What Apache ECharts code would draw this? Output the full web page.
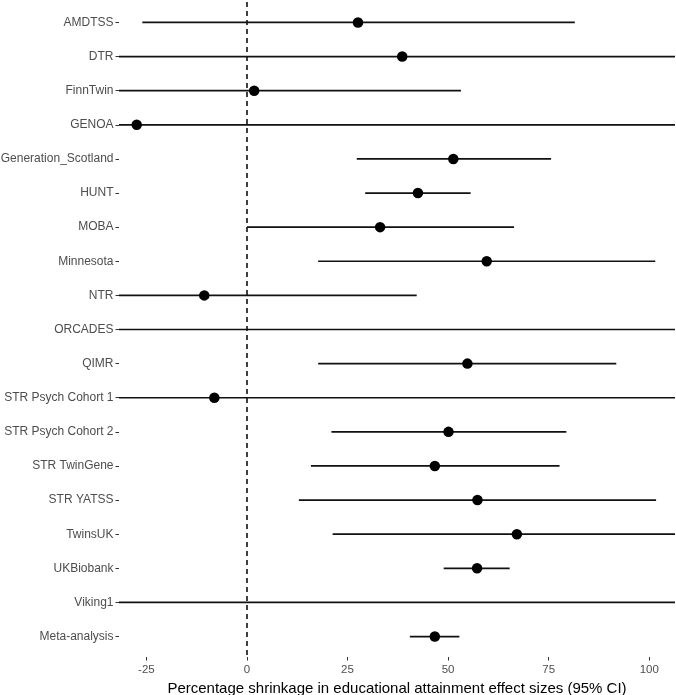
<!DOCTYPE html>
<html>
<head>
<meta charset="utf-8">
<script src="https://cdn.jsdelivr.net/npm/echarts@6/dist/echarts.min.js"></script>
<style>
html,body{margin:0;padding:0;background:#fff;}
#chart{width:676px;height:695px;}
</style>
</head>
<body>
<div id="chart"></div>
<script>
const categories = ["AMDTSS","DTR","FinnTwin","GENOA","Generation_Scotland","HUNT","MOBA","Minnesota","NTR","ORCADES","QIMR","STR Psych Cohort 1","STR Psych Cohort 2","STR TwinGene","STR YATSS","TwinsUK","UKBiobank","Viking1","Meta-analysis"];
const estimate = [27.6, 38.6, 1.8, -27.4, 51.3, 42.5, 33.1, 59.6, -10.6, null, 54.8, -8.1, 50.1, 46.7, 57.3, 67.1, 57.2, null, 46.7];
const lower = [-26.0, -45, -45, -45, 27.3, 29.4, 0.0, 17.7, -45, -45, 17.7, -45, 21.0, 15.9, 12.9, 21.3, 48.9, -45, 40.5];
const upper = [81.5, 130, 53.2, 130, 75.6, 55.6, 66.4, 101.5, 42.2, 130, 91.8, 130, 79.4, 77.7, 101.7, 130, 65.3, 130, 52.8];
const xTicks = [-25, 0, 25, 50, 75, 100];
const xTitle = "Percentage shrinkage in educational attainment effect sizes (95% CI)";

const rowIdx = categories.map((c, i) => i + 1);
const ciData = categories.map((c, i) => [i + 1, lower[i], upper[i]]);
const ptData = [];
categories.forEach((c, i) => { if (estimate[i] !== null) ptData.push([estimate[i], i + 1]); });

const chart = echarts.init(document.getElementById('chart'), null, {renderer: 'canvas'});
const font = '"Liberation Sans", Arial, sans-serif';
chart.setOption({
  animation: false,
  backgroundColor: '#fff',
  textStyle: {fontFamily: font},
  grid: {left: 119, right: 1, top: 2, bottom: 38, containLabel: false, outerBoundsMode: 'none'},
  xAxis: {
    type: 'value',
    min: -31.8, max: 106.4,
    name: xTitle,
    nameLocation: 'middle',
    nameGap: 23,
    nameTextStyle: {fontSize: 15, color: '#000', fontFamily: font},
    axisLine: {show: false, onZero: false},
    splitLine: {show: false},
    axisTick: {show: true, length: 3.5, inside: false, customValues: xTicks, lineStyle: {color: '#333', width: 1}},
    axisLabel: {show: true, customValues: xTicks, margin: 7, fontSize: 11.5, color: '#4d4d4d', fontFamily: font}
  },
  yAxis: {
    type: 'value',
    inverse: true,
    min: 0.4, max: 19.6,
    axisLine: {show: false, onZero: false},
    splitLine: {show: false},
    axisTick: {show: true, length: 3.5, customValues: rowIdx, lineStyle: {color: '#333', width: 1}},
    axisLabel: {
      show: true, customValues: rowIdx, margin: 5.5, fontSize: 12, color: '#4d4d4d', fontFamily: font,
      formatter: v => categories[Math.round(v) - 1] || ''
    }
  },
  series: [
    {
      type: 'custom',
      clip: true,
      data: ciData,
      encode: {x: [1, 2], y: 0},
      renderItem: function (params, api) {
        const y = api.value(0), lo = api.value(1), hi = api.value(2);
        const p1 = api.coord([lo, y]);
        const p2 = api.coord([hi, y]);
        return {type: 'line', shape: {x1: p1[0], y1: p1[1], x2: p2[0], y2: p2[1]}, style: {stroke: '#111', lineWidth: 1.7}};
      },
      silent: true
    },
    {
      type: 'scatter',
      data: ptData,
      symbol: 'circle',
      symbolSize: 10.5,
      itemStyle: {color: '#000', opacity: 1},
      silent: true,
      z: 5,
      markLine: {
        silent: true,
        symbol: 'none',
        label: {show: false},
        lineStyle: {type: [5, 4], color: '#111', width: 1.6, opacity: 1},
        data: [{xAxis: 0}]
      }
    }
  ]
});
</script>
</body>
</html>
